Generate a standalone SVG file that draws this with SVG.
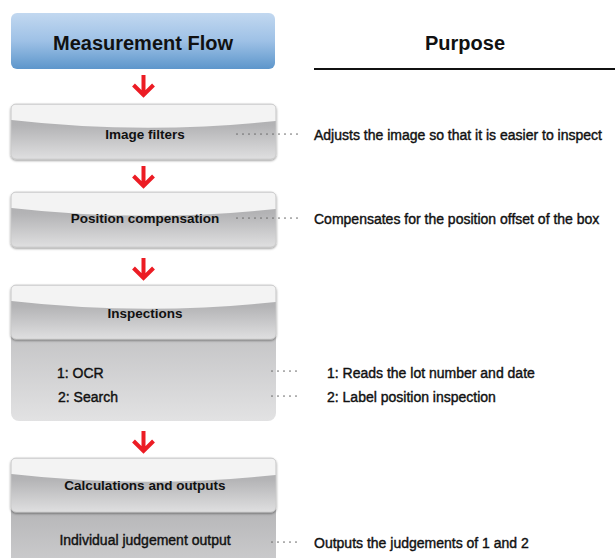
<svg xmlns="http://www.w3.org/2000/svg" width="615" height="558" viewBox="0 0 615 558">
<style>
.t{font-family:"Liberation Sans",Arial,sans-serif;fill:#111}
.h{font-weight:bold;font-size:20px;text-anchor:middle}
.b{font-weight:bold;font-size:13.5px;text-anchor:middle}
.r{font-size:14px;stroke:#111;stroke-width:0.4}
.gloss{fill:#f3f3f3}
.hdr{fill:url(#gGray);stroke:#c9c9c9;stroke-width:0.8}
.dot{stroke:#6e6e6e;stroke-width:1.7;stroke-linecap:round;stroke-dasharray:0 6;fill:none}
.arr{stroke:#ec1c24;stroke-width:4;fill:none;stroke-linejoin:miter}
</style>
<defs>
<linearGradient id="gBlue" x1="0" y1="0" x2="0" y2="1">
<stop offset="0" stop-color="#c2d8f0"/>
<stop offset="0.5" stop-color="#9ec1e6"/>
<stop offset="1" stop-color="#5d96cb"/>
</linearGradient>
<linearGradient id="gGray" x1="0" y1="0" x2="0" y2="1">
<stop offset="0" stop-color="#a8a8aa"/>
<stop offset="0.4" stop-color="#b4b4b6"/>
<stop offset="1" stop-color="#dfdfe0"/>
</linearGradient>
<linearGradient id="gBody" x1="0" y1="0" x2="0" y2="1">
<stop offset="0" stop-color="#b3b3b5"/>
<stop offset="1" stop-color="#e2e2e3"/>
</linearGradient>
<linearGradient id="gBody2" gradientUnits="userSpaceOnUse" x1="0" y1="512" x2="0" y2="600">
<stop offset="0" stop-color="#b7b7b9"/>
<stop offset="1" stop-color="#dadadb"/>
</linearGradient>
<filter id="sh" x="-5%" y="-10%" width="110%" height="130%">
<feDropShadow dx="0" dy="1.2" stdDeviation="1.2" flood-color="#000" flood-opacity="0.45"/>
</filter>
<path id="arrow" d="M0,0 V20 M-10,10 L0,20 L10,10"/>
</defs>

<g id="header">
<rect x="11" y="13" width="264" height="56" rx="6" fill="url(#gBlue)"/>
<text class="t h" x="143" y="50">Measurement Flow</text>
</g>

<g id="purpose">
<text class="t h" x="465" y="50">Purpose</text>
<line x1="314" y1="69" x2="615" y2="69" stroke="#111" stroke-width="2"/>
</g>

<g id="image-filters">
<g filter="url(#sh)">
<rect class="hdr" x="11" y="104" width="265" height="55" rx="5"/>
<path class="gloss" d="M11.4,109 Q11.4,104.4 16,104.4 H271 Q275.6,104.4 275.6,109 V121 Q143,135 11.4,120 Z"/>
</g>
<text class="t b" x="145" y="139">Image filters</text>
</g>

<g id="position-compensation">
<g filter="url(#sh)">
<rect class="hdr" x="11" y="192" width="265" height="55" rx="5"/>
<path class="gloss" d="M11.4,197 Q11.4,192.4 16,192.4 H271 Q275.6,192.4 275.6,197 V209 Q143,223 11.4,208 Z"/>
</g>
<text class="t b" x="145" y="223">Position compensation</text>
</g>

<g id="inspections">
<rect x="11" y="285" width="265" height="136" rx="8" fill="url(#gBody)"/>
<g filter="url(#sh)">
<rect class="hdr" x="11" y="285" width="265" height="54" rx="5"/>
<path class="gloss" d="M11.4,290 Q11.4,285.4 16,285.4 H271 Q275.6,285.4 275.6,290 V302 Q143,316 11.4,301 Z"/>
</g>
<text class="t b" x="145" y="318">Inspections</text>
<text class="t r" x="57" y="378">1: OCR</text>
<text class="t r" x="58" y="402">2: Search</text>
</g>

<g id="calculations">
<rect x="11" y="458" width="265" height="120" rx="8" fill="url(#gBody2)"/>
<g filter="url(#sh)">
<rect class="hdr" x="11" y="458" width="265" height="54" rx="5"/>
<path class="gloss" d="M11.4,463 Q11.4,458.4 16,458.4 H271 Q275.6,458.4 275.6,463 V475 Q143,489 11.4,474 Z"/>
</g>
<text class="t b" x="145" y="490">Calculations and outputs</text>
<text class="t r" x="145" y="545" text-anchor="middle">Individual judgement output</text>
</g>

<g id="purposes">
<text class="t r" x="314" y="140">Adjusts the image so that it is easier to inspect</text>
<text class="t r" x="314" y="224">Compensates for the position offset of the box</text>
<text class="t r" x="327" y="378">1: Reads the lot number and date</text>
<text class="t r" x="327" y="402">2: Label position inspection</text>
<text class="t r" x="314" y="548">Outputs the judgements of 1 and 2</text>
</g>

<g id="connectors">
<use href="#arrow" class="arr" x="143.5" y="75"/>
<use href="#arrow" class="arr" x="143.5" y="166"/>
<use href="#arrow" class="arr" x="143.5" y="258"/>
<use href="#arrow" class="arr" x="143.5" y="431"/>
<line class="dot" x1="237" y1="134" x2="298" y2="134"/>
<line class="dot" x1="237" y1="218" x2="298" y2="218"/>
<line class="dot" x1="272" y1="371" x2="298" y2="371"/>
<line class="dot" x1="272" y1="396" x2="298" y2="396"/>
<line class="dot" x1="272" y1="542" x2="298" y2="542"/>
</g>
</svg>
